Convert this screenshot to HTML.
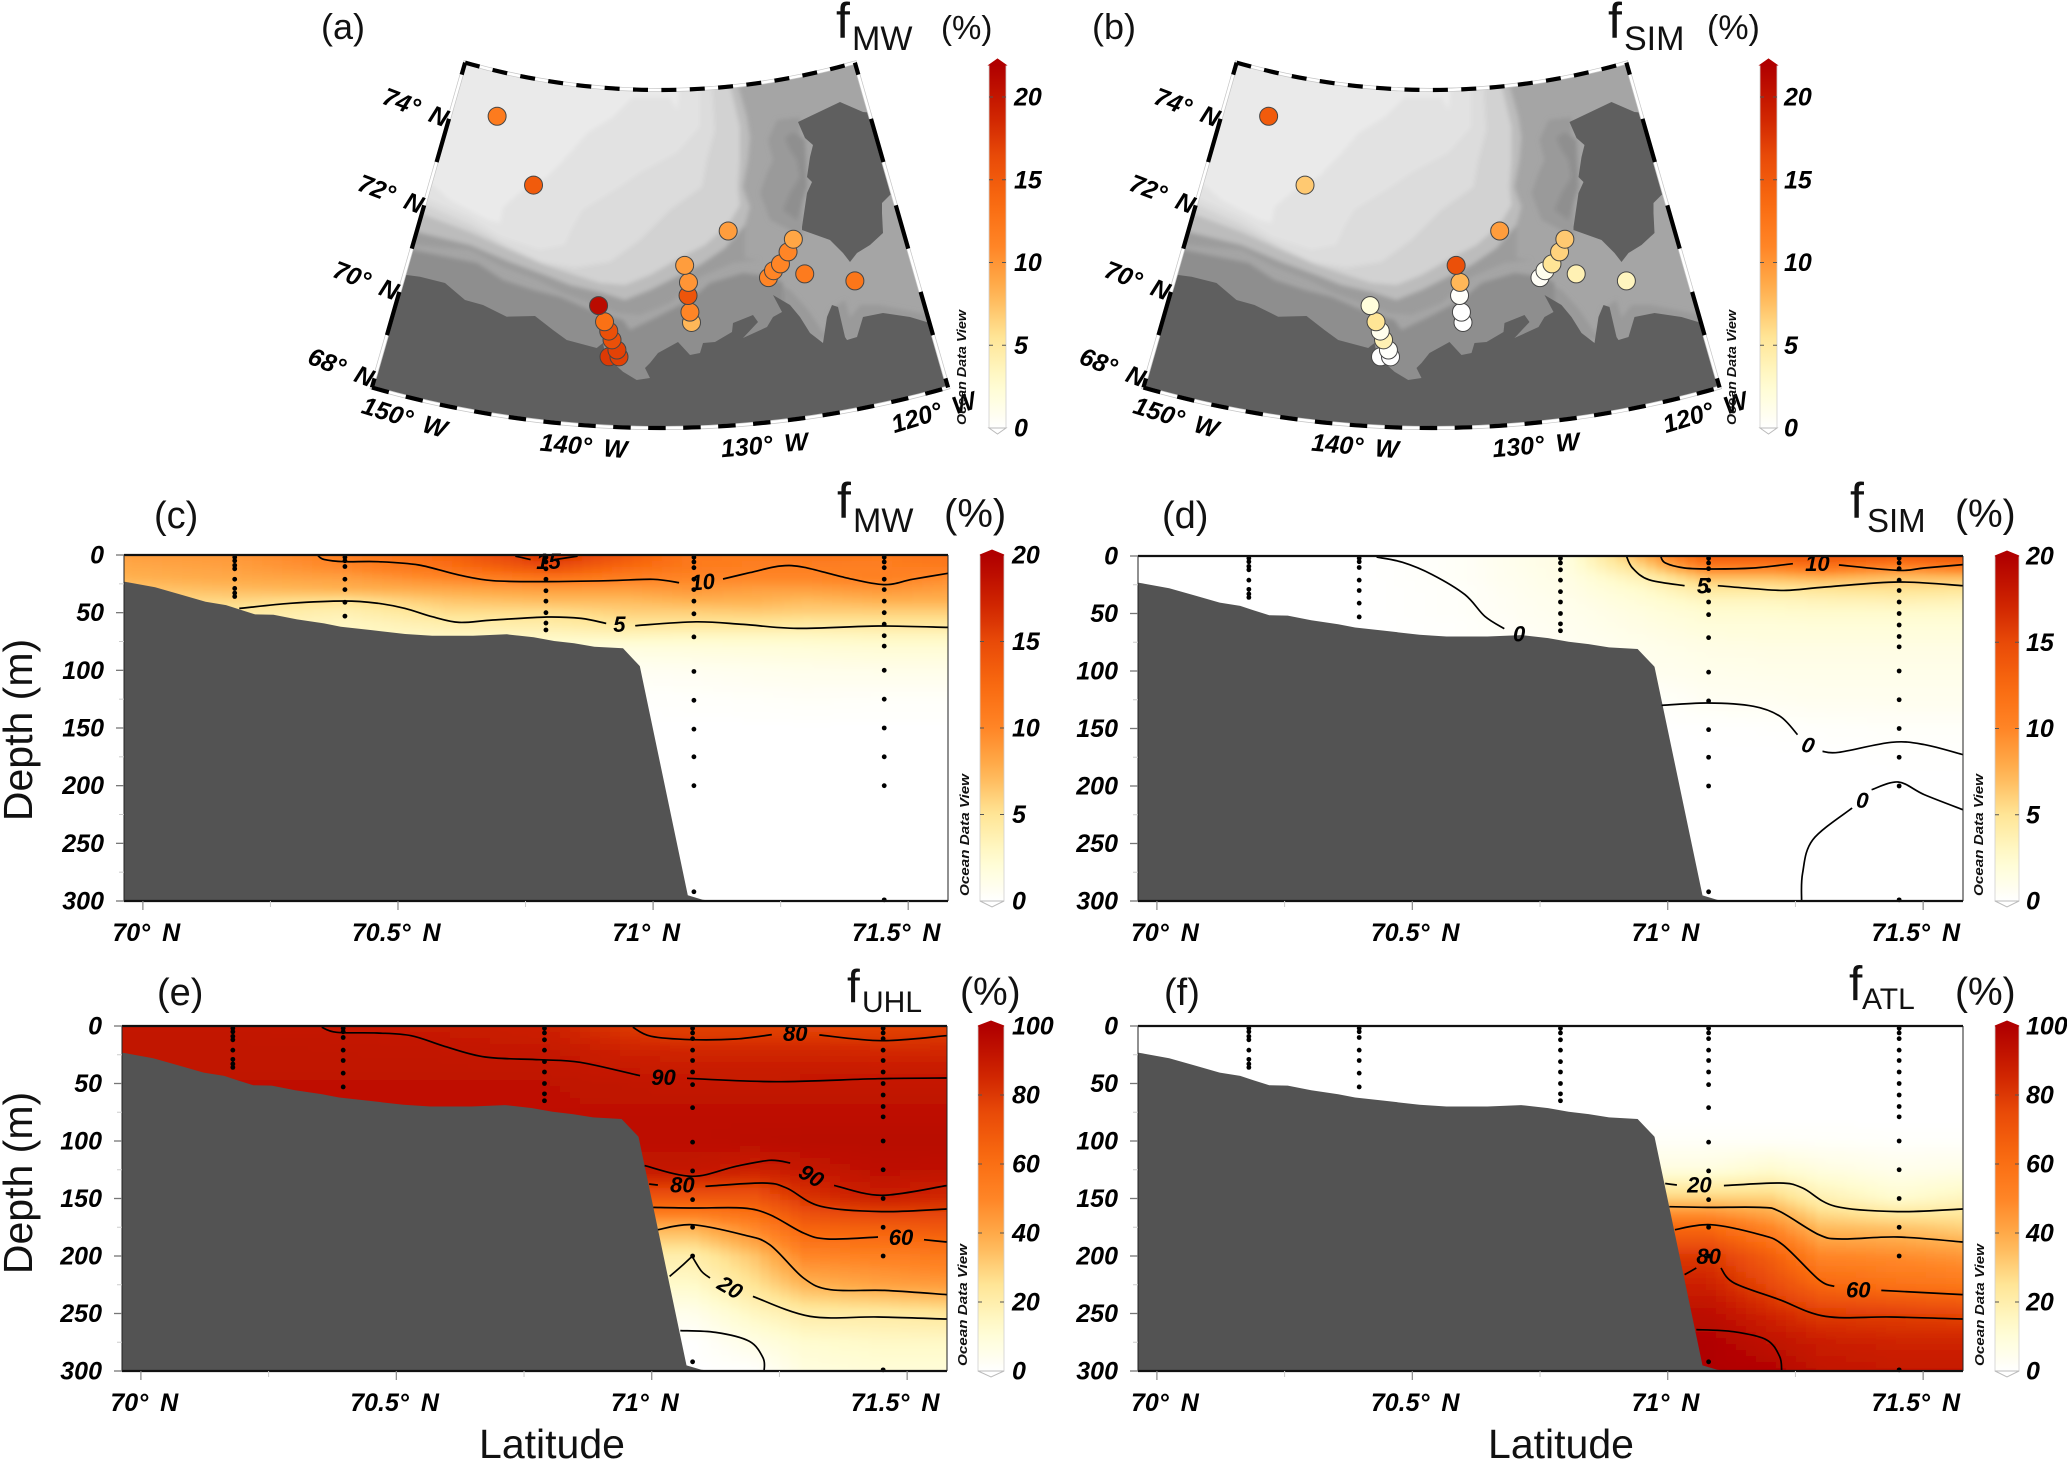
<!DOCTYPE html>
<html lang="en">
<head>
<meta charset="utf-8">
<title>Freshwater fractions map and sections</title>
<style>
html,body{margin:0;padding:0;background:#fff;}
svg{display:block;font-family:"Liberation Sans",sans-serif;}
.tick{font:italic bold 25px "Liberation Sans",sans-serif;fill:#000;word-spacing:5px;}
.title{font-family:"Liberation Sans",sans-serif;fill:#111;}
</style>
</head>
<body>
<svg id="figure" xmlns="http://www.w3.org/2000/svg" width="2067" height="1461" viewBox="0 0 2067 1461">
<defs>
  <filter id="soft" filterUnits="userSpaceOnUse" x="0" y="0" width="2067" height="1461"><feGaussianBlur stdDeviation="2.5"/></filter>
  <filter id="softMap" filterUnits="userSpaceOnUse" x="300" y="0" width="800" height="500"><feGaussianBlur stdDeviation="2.2"/></filter>
  <clipPath id="sectorClip"><path id="sectorClipPath" d=""/></clipPath>
  <g id="map-base">
    <g clip-path="url(#sectorClip)">
      <rect x="300" y="40" width="700" height="420" fill="#a5a5a5"/>
      <g filter="url(#softMap)">
        <polygon fill="#9a9a9a" points="768,140 777,120 800,117 803,237 770,220 760,193 767,173 773,160"/>
        <polygon fill="#8f8f8f" points="785,138 793,132 805,140 807,187 797,220 783,210 790,193 800,177 797,160 790,150"/>
        <polygon fill="#9a9a9a" points="775,283 790,290 808,310 825,335 830,310 845,300 850,318 860,305 880,305 930,315 930,340 775,340"/>
        <polygon fill="#8e8e8e" points="380,235 413,250 477,263 503,280 533,290 560,297 583,307 597,313 623,320 630,330 657,317 690,300 710,283 743,273 773,277 783,283 783,327 780,420 380,420"/>
        <polygon fill="#9c9c9c" points="385,232 417,245 470,250 503,267 537,280 563,293 590,303 617,313 640,315 670,303 700,277 733,263 760,260 745,258 745,225 700,225 500,225 385,225"/>
        <polygon fill="#bcbcbc" points="385,215 417,232 470,245 510,262 545,275 570,285 600,292 625,300 650,290 680,275 700,265 725,248 745,225 750,207 743,187 748,160 750,137 747,117 738,85 380,40"/>
        <polygon fill="#d2d2d2" points="395,205 425,215 470,232 510,250 545,265 575,275 600,283 625,285 650,275 680,258 705,245 728,225 740,205 738,187 740,160 740,127 730,85 380,40"/>
        <polygon fill="#dcdcdc" points="405,195 430,207 470,225 505,245 540,262 575,268 610,262 640,240 670,210 702,187 707,160 715,130 712,85 380,40"/>
        <polygon fill="#e2e2e2" points="410,190 430,200 470,218 500,237 540,250 565,245 573,227 583,210 620,187 640,173 677,153 700,127 700,85 380,40"/>
        <polygon fill="#eaeaea" points="405,180 433,185 450,200 488,220 500,223 503,207 523,190 547,177 570,153 587,133 613,117 633,97 670,97 677,110 680,80 380,40"/>
      </g>
      <polygon fill="#5f5f5f" points="380,275 406.7,275 420,276.7 433,280 445,283 465,300 483,305 506.7,316.7 535,316 553,330 566.7,340 596.7,348 603,343 605,353 610,360 623,371.7 636.7,380 650,378 645,368 650,363 658,353 678,342 690,355 700,353 703,343 715,342 732,332 733,323 753,315 758,322 743,338 767,327 773,317 782,312 773,295 790,305 800,317 810,333 823,343 827,317 832,305 838,307 845,337 847,340 857,337 863,317 883,313 910,317 930,323 980,335 980,460 340,460 340,275"/>
      <polygon fill="#5f5f5f" points="798,122 840,102 863,112 900,115 900,190 890,195 882,203 882,213 883,233 870,245 857,253 850,262 843,253 830,240 802,230 802,227 807,193 812,182 807,177 810,157 813,145 805,138"/>
    </g>
  </g>
</defs>
<rect x="0" y="0" width="2067" height="1461" fill="#fff"/>

<g>
  <text class="title" x="321" y="39" font-size="36">(a)</text>
  <text class="title" x="836" y="38" font-size="50">f</text>
  <text class="title" x="852" y="50" font-size="34">MW</text>
  <text class="title" x="941" y="39" font-size="33">(%)</text>
</g>
<g>
  <text class="title" x="1092" y="39" font-size="36">(b)</text>
  <text class="title" x="1608" y="38" font-size="50">f</text>
  <text class="title" x="1624" y="50" font-size="34">SIM</text>
  <text class="title" x="1707" y="39" font-size="34">(%)</text>
</g>
<g>
  <text class="title" x="154" y="528" font-size="38">(c)</text>
  <text class="title" x="837" y="518" font-size="50">f</text>
  <text class="title" x="853" y="532" font-size="34">MW</text>
  <text class="title" x="944" y="527" font-size="40">(%)</text>
</g>
<g>
  <text class="title" x="1162" y="528" font-size="38">(d)</text>
  <text class="title" x="1850" y="518" font-size="50">f</text>
  <text class="title" x="1867" y="532" font-size="33">SIM</text>
  <text class="title" x="1955" y="527" font-size="39">(%)</text>
</g>
<g>
  <text class="title" x="157" y="1005" font-size="38">(e)</text>
  <text class="title" x="847" y="1002" font-size="46">f</text>
  <text class="title" x="862" y="1012" font-size="30">UHL</text>
  <text class="title" x="960" y="1005" font-size="39">(%)</text>
</g>
<g>
  <text class="title" x="1164" y="1005" font-size="38">(f)</text>
  <text class="title" x="1849" y="1000" font-size="48">f</text>
  <text class="title" x="1862" y="1009" font-size="30">ATL</text>
  <text class="title" x="1955" y="1005" font-size="39">(%)</text>
</g>
<text class="title" transform="translate(32,730) rotate(-90)" text-anchor="middle" font-size="41">Depth (m)</text>
<text class="title" transform="translate(32,1183) rotate(-90)" text-anchor="middle" font-size="41">Depth (m)</text>
<text class="title" x="552" y="1458" text-anchor="middle" font-size="41">Latitude</text>
<text class="title" x="1561" y="1458" text-anchor="middle" font-size="41">Latitude</text>
</svg>

<script>
// ---------- data: map stations (drawn bottom to top) ----------
const stationLon=[-137.81,-137.26,-137.39,-137.69,-137.9,-138.17,-138.57,-133.2,-133.27,-133.35,-133.3,-133.5,-123.52,-126.35,-128.52,-128.17,-127.7,-127.14,-126.7,-130.69,-143.4,-146.74];
const stationLat=[69.15,69.16,69.31,69.53,69.72,69.92,70.27,69.93,70.16,70.53,70.82,71.2,70.4,70.76,70.79,70.93,71.06,71.3,71.56,71.91,72.77,74.12];
const stationMW=[17.5,17,17,16,16,13,21,8,11,15.5,10,9.5,12.5,12,11,11,11,11,9,9.5,15,12];
const stationSIM=[0,0,0.3,4,1,5.5,2,0,0,0.3,8,16,3.5,4,0.5,1,5.5,6.5,7,9.5,7,15];
const mapLatTicks=[74,72,70,68];
const mapLonTicks=[150,140,130,120];
const mapBarTicks=[0,5,10,15,20];

// ---------- data: section axes ----------
const latTicks=[70,70.5,71,71.5];
const latMinorTicks=[70.25,70.75,71.25];
const depthTicks=[0,50,100,150,200,250,300];
const depthMinorTicks=[25,75,125,175,225,275];
const percentTicks20=[0,5,10,15,20];
const percentTicks100=[0,20,40,60,80,100];

// ---------- data: bottom profile ----------
const bottomLat=[69.963,70.024,70.077,70.123,70.163,70.189,70.22,70.256,70.302,70.355,70.388,70.448,70.514,70.567,70.647,70.713,70.766,70.806,70.845,70.885,70.941,70.974,71.068,71.097,71.12];
const bottomDepth=[23.1,28,34.7,40.5,43.4,47.2,51.5,51.8,55.8,59.3,62.2,65.1,68.5,70,70,68.8,71.4,74.6,76.6,79.5,80.9,96.3,295.1,299,300];

// ---------- data: sample casts ----------
const castLat=[70.18,70.396,70.79,71.08,71.453];
const castDepth1=[2,5,9,12,21,29,33,36];
const castDepth2=[2,5,10,21,30,41,53];
const castDepth3=[2,6,12,21,31,40,50,59,65];
const castDepth4=[2,6,11,21,30,40,51,71,101,126,151,175,200,292];
const castDepth5=[2,6,11,21,30,40,50,60,70,79,100,125,150,175,200,299];

// ---------- data: field grids ----------
const gridLat=[69.96,70.18,70.4,70.6,70.8,70.95,71.08,71.2,71.3,71.45,71.58];
const gridDepth=[0,10,20,30,40,50,60,70,80,100,125,150,175,200,225,250,275,300];
const fieldMW=[
[8.5,9,10.5,13,17,14,11,11,11.5,11,11.5],
[8,8.5,10,12,15,12.5,11,10.5,10.5,10.5,11],
[7.5,8,8.5,10,11.5,10.5,10,10,10,10.5,9.5],
[6.5,7,7.5,8,8.5,8.5,9,8.5,8.5,9,8.5],
[5.5,5.7,5,6.5,7,7,7.5,7.5,7,7.5,7.5],
[4,4.5,3.7,5.3,5.3,6,6,6.2,6,6,6],
[3,3.5,3,4,4.2,4.8,4.8,4.8,4.5,4.7,4.7],
[2.5,3,2.8,3,3,3.2,3,3,3,3.2,3.2],
[2,2,2,2,2,1.7,1.8,1.9,2,2.2,2.2],
[1,1,1,1,1,0.6,0.7,0.9,1,1.1,1.1],
[0.1,0.1,0.1,0.1,0.1,0.1,0.2,0.3,0.4,0.3,0.3],
[0,0,0,0,0,0,0,0,0,0,0],
[0,0,0,0,0,0,0,0,0,0,0],
[0,0,0,0,0,0,0,0,0,0,0],
[0,0,0,0,0,0,0,0,0,0,0],
[0,0,0,0,0,0,0,0,0,0,0],
[0,0,0,0,0,0,0,0,0,0,0],
[0,0,0,0,0,0,0,0,0,0,0]];
const fieldSIM=[
[0,0,0,0.4,1.5,7.5,14,14,14.5,14,14.5],
[0,0,0,0.4,1.5,5.5,10.5,10.5,11.5,10,11],
[0,0,0,0.4,1.3,3.5,6.5,6.5,7,6.5,6.5],
[0,0,0,0.3,1.2,2.5,4.5,4.5,4.8,5,4.8],
[0,0,0,0.3,1,2,3,3,3.3,3.5,3.3],
[0,0,0,0.3,0.9,1.6,2.3,2.4,2.5,2.5,2.5],
[0,0,0,0.2,0.8,1.4,1.9,1.9,2,2,2],
[0,0,0,0.2,0.7,1.2,1.6,1.7,1.7,1.7,1.7],
[0,0,0,0.1,0.6,1,1.3,1.4,1.4,1.4,1.4],
[0,0,0,0.1,0.4,0.8,1,1.1,1.1,1.1,1.1],
[0,0,0,0,0.1,0.15,0.6,0.7,0.8,0.8,0.8],
[0,0,0,0,0,0,0.05,0.1,0.2,0.3,0.3],
[0,0,0,0,0,0,0,0,0,0.05,0.05],
[0,0,0,0,0,0,0,0,0,0,0],
[0,0,0,0,0,0,0,0,0,0,0],
[0,0,0,0,0,0,0,0,0,0,0],
[0,0,0,0,0,0,0,0,0,0,0],
[0,0,0,0,0,0,0,0,0,0,0]];
const fieldUHL=[
[91,91,90,89,87,80,78,78,76,77,78],
[92,92,91,90,88,83,80,80,80,80,81],
[92,92,92,91,90,86,85,85,85,84,84],
[92,92,92,92,91,88,87,87,87,86,87],
[92,92,92,92,92,90,89,89,89,89,89],
[93,93,93,93,93,92,90.5,90,90.5,90.5,90.5],
[93,93,93,93,93,92.5,92,92,92,92,92],
[93,93,93,93,93,93,93,93,93,93,93],
[94,94,94,94,94,94,94,94,94,94,94],
[94,94,94,94,94,94,94,95,96,96,96],
[91,91,91,91,91,91,91,87,90,94,93],
[70,70,70,70,70,70,70,70,81,88,84],
[38,38,38,38,38,38,38,50,65,67,70],
[20,20,20,20,20,20,20,33,50,52,55],
[13,13,13,13,13,13,13,25,37,42,44],
[5,5,5,5,5,5,5,15,21,22,24],
[0,0,0,0,0,0,0,7,12,14,14],
[0,0,0,0,0,0,0,0.5,8,10,10]];
const fieldATL=[
[0,0,0,0,0,0,0,0,0,0,0],
[0,0,0,0,0,0,0,0,0,0,0],
[0,0,0,0,0,0,0,0,0,0,0],
[0,0,0,0,0,0,0,0,0,0,0],
[0,0,0,0,0,0,0,0,0,0,0],
[0,0,0,0,0,0,0,0,0,0,0],
[0,0,0,0,0,0,0,0,0,0,0],
[0,0,0,0,0,0,0,0,0,0,0],
[0,0,0,0,0,0,0,0,0,0,0],
[2,2,2,2,2,2,2,2,1.5,1,1],
[8,8,8,8,8,8,8,12,8,5,6],
[30,30,30,30,30,30,30,30,19,12,16],
[62,62,62,62,62,62,62,50,35,33,30],
[80,80,80,80,80,80,80,67,50,48,45],
[87,87,87,87,87,87,87,75,63,58,56],
[94,94,94,94,94,94,94,85,79,78,76],
[100,100,100,100,100,100,100,93,88,86,86],
[100,100,100,100,100,100,100,99,92,90,90]];

// ---------- data: contours, [latitude, depth] ----------
const mw10a=[[70.342,0],[70.355,3.8],[70.395,5.8],[70.461,5.8],[70.541,8.7],[70.62,17.4],[70.686,22.3],[70.792,23.1],[70.912,22.3],[71.0,21.1],[71.051,24]];
const mw10b=[[71.137,20.8],[71.19,15.3],[71.25,9.5],[71.296,10.7],[71.375,19.4],[71.452,25.7],[71.508,21.1],[71.578,15.9]];
const mw5a=[[70.189,46.3],[70.289,41.9],[70.395,39.9],[70.461,41.9],[70.514,46.3],[70.567,53.5],[70.62,58.4],[70.686,56.4],[70.792,53.8],[70.859,55],[70.908,59.3]];
const mw5b=[[70.965,61.3],[71.084,57.9],[71.177,60.2],[71.283,63.6],[71.442,61.6],[71.578,62.8]];
const mw15a=[[70.73,1],[70.76,4]];
const mw15b=[[70.807,4],[70.852,1]];
const sim10a=[[70.986,0],[70.995,6],[71.033,10.4],[71.091,11.3],[71.168,10.4],[71.245,6.7]];
const sim10b=[[71.335,7.8],[71.451,12.5],[71.502,10.4],[71.578,7.5]];
const sim5a=[[70.919,0],[70.931,10.4],[70.963,20.6],[71.033,25.8]];
const sim5b=[[71.098,25.8],[71.168,28.4],[71.232,29.9],[71.309,27],[71.451,22.6],[71.578,25.8]];
const sim0a=[[70.43,1],[70.481,5.5],[70.539,16.2],[70.603,33.6],[70.642,52.5],[70.68,63.2]];
const sim0b=[[70.988,129.9],[71.078,127.8],[71.168,130.7],[71.22,139.4],[71.254,155.4]];
const sim0c=[[71.303,169.9],[71.335,170.7],[71.438,162],[71.502,164],[71.578,172.8]];
const sim0d=[[71.262,300],[71.264,275.7],[71.284,246.7],[71.361,219.1]];
const sim0e=[[71.399,203.2],[71.451,196.5],[71.502,207.5],[71.578,220.6]];
const uhl90a=[[70.354,1],[70.383,5.5],[70.462,6.1],[70.529,8.4],[70.595,17.7],[70.674,27],[70.78,29.3],[70.86,31.6],[70.977,43.2]];
const uhl90b=[[71.069,45.5],[71.244,48.4],[71.443,45.8],[71.577,45.2]];
const uhl80a=[[70.963,1],[70.999,9],[71.079,11.9],[71.165,11.3],[71.235,7.5]];
const uhl80b=[[71.328,7.8],[71.45,12.8],[71.577,8.4]];
const uhl90c=[[70.986,121.4],[71.079,130.7],[71.165,122],[71.231,116.8],[71.271,119.1]];
const uhl90d=[[71.357,138.6],[71.45,147.2],[71.577,138.8]];
const uhl80c=[[70.995,137.4],[71.012,138.3]];
const uhl80d=[[71.105,139.4],[71.218,136.5],[71.264,140.9],[71.331,156.8],[71.45,161.4],[71.577,159.1]];
const uhl60a=[[71.003,157.7],[71.079,158.3],[71.178,158.3],[71.231,164],[71.297,180],[71.344,185.2],[71.443,183.5]];
const uhl60b=[[71.533,185.8],[71.577,187.8]];
const uhl40=[[71.012,177.1],[71.079,172.8],[71.178,181.5],[71.231,190.2],[71.297,219.1],[71.35,229.3],[71.456,229.9],[71.577,233.6]];
const uhl20a=[[71.035,217.7],[71.058,209],[71.079,200.3],[71.079,200.3],[71.097,213],[71.114,219.1]];
const uhl20b=[[71.198,235.1],[71.31,252.5],[71.443,253],[71.577,254.8]];
const uhl0=[[71.056,264.9],[71.125,266.4],[71.191,274.2],[71.218,288.7],[71.22,300]];
const atl20a=[[70.995,137],[71.018,138.3]];
const atl20b=[[71.11,138.8],[71.219,136.5],[71.264,140.9],[71.328,156.8],[71.45,161.4],[71.577,159.1]];
const atl40=[[71.003,157.1],[71.078,157.7],[71.181,157.7],[71.219,161.2],[71.296,181.5],[71.341,185.2],[71.45,183.5],[71.577,187.8]];
const atl60a=[[71.014,177.1],[71.084,172.8],[71.181,181.5],[71.225,190.2],[71.296,220.6],[71.326,226.4]];
const atl60b=[[71.418,229.9],[71.577,233.6]];
const atl80a=[[71.033,216.2],[71.056,210.4]];
const atl80b=[[71.104,210.4],[71.13,223.5],[71.219,238],[71.309,252.5],[71.437,253],[71.577,254.8]];
const atl100=[[71.056,264],[71.129,265.8],[71.193,272.8],[71.219,287.3],[71.223,300]];

// ---------- data: contour labels, [text, latitude, depth, rotation] ----------
const labelsMW=[['10',71.097,23,-5],['5',70.934,60,0],['15',70.795,5,0]];
const labelsSIM=[['10',71.293,6,0],['5',71.069,25.8,0],['0',70.709,67.5,0],['0',71.275,164,15],['0',71.381,212,5]];
const labelsUHL=[['80',71.281,6,0],['90',71.023,44.4,0],['90',71.313,130,30],['80',71.06,138,0],['60',71.488,183.5,0],['20',71.154,227,30]];
const labelsATL=[['20',71.062,138,0],['80',71.08,200,0],['60',71.373,229,0]];

// ---------- helpers ----------
const svg=document.getElementById('figure');
const NS='http://www.w3.org/2000/svg';
function make(tag,attrs,parent){
  const e=document.createElementNS(NS,tag);
  for(const k in attrs){e.setAttribute(k,attrs[k]);}
  (parent||svg).appendChild(e);
  return e;
}
const ramp=[[0,255,255,255],[0.12,255,252,208],[0.25,255,229,150],[0.38,255,176,79],[0.5,255,133,38],[0.62,249,106,16],[0.75,232,74,8],[0.87,204,32,0],[1,176,0,0]];
function colorAt(t){
  t=Math.max(0,Math.min(1,t));
  for(let i=1;i<ramp.length;i++){
    if(t<=ramp[i][0]){
      const a=ramp[i-1],b=ramp[i],f=(t-a[0])/(b[0]-a[0]);
      return 'rgb('+Math.round(a[1]+(b[1]-a[1])*f)+','+Math.round(a[2]+(b[2]-a[2])*f)+','+Math.round(a[3]+(b[3]-a[3])*f)+')';
    }
  }
  return 'rgb(176,0,0)';
}
function smoothPath(pts){
  let d='M'+pts[0][0].toFixed(1)+' '+pts[0][1].toFixed(1);
  for(let i=0;i<pts.length-1;i++){
    const p0=pts[Math.max(i-1,0)],p1=pts[i],p2=pts[i+1],p3=pts[Math.min(i+2,pts.length-1)];
    const c1x=p1[0]+(p2[0]-p0[0])/6,c1y=p1[1]+(p2[1]-p0[1])/6;
    const c2x=p2[0]-(p3[0]-p1[0])/6,c2y=p2[1]-(p3[1]-p1[1])/6;
    d+='C'+c1x.toFixed(1)+' '+c1y.toFixed(1)+' '+c2x.toFixed(1)+' '+c2y.toFixed(1)+' '+p2[0].toFixed(1)+' '+p2[1].toFixed(1);
  }
  return d;
}
let gradientCount=0;
function drawBar(x0,x1,yTop,yBottom,tipTop,tipBottom,labelX,ticks,maxV,yOf){
  const id='barGrad'+(gradientCount++);
  const defs=svg.querySelector('defs');
  const grad=make('linearGradient',{id:id,x1:0,y1:1,x2:0,y2:0},defs);
  for(let i=0;i<=20;i++){
    make('stop',{offset:(i/20),'stop-color':colorAt(i/20)},grad);
  }
  const g=make('g',{});
  
  
  const body=make('rect',{x:x0,y:yTop,width:x1-x0,height:yBottom-yTop,fill:'url(#'+id+')',stroke:'#cfcfcf','stroke-width':0.8},g);
  
  
  const mid=(x0+x1)/2;
  const top=make('polygon',{points:x0+','+yTop+' '+mid+','+tipTop+' '+x1+','+yTop,fill:'#b00000',stroke:'#b00000','stroke-width':1},g);
  
  
  const bot=make('polygon',{points:x0+','+yBottom+' '+mid+','+tipBottom+' '+x1+','+yBottom,fill:'#fff',stroke:'#bbb','stroke-width':1},g);
  
  
  ticks.forEach(function(v){
    const y=yOf(v);
    if(v>0&&v<maxV){
      const a=make('line',{x1:x0,x2:x0+4,y1:y,y2:y,stroke:'#555','stroke-width':1},g);
      
      
      const b=make('line',{x1:x1-4,x2:x1,y1:y,y2:y,stroke:'#555','stroke-width':1},g);
      
      
    }
    const t=make('text',{x:labelX,y:y+8.5,class:'tick'},g);
    t.textContent=String(v);
    
    
  });
}
function odvText(x,yBottom,len){
  const t=make('text',{transform:'translate('+x+','+yBottom+') rotate(-90)','font-size':12.5,'font-weight':'bold','font-style':'italic',fill:'#111',textLength:len,lengthAdjust:'spacingAndGlyphs'});
  t.textContent='Ocean Data View';
  
  
}

// ---------- map panels ----------
const APEX_X=660,APEX_Y=-617,R_SOUTH=1045,R_PER_DEG=45.07,LAT_SOUTH=67.6,LON_MID=-135,THETA_PER_LON=1.0667;
function mapXY(lon,lat,dx){
  const theta=(lon-LON_MID)*THETA_PER_LON*Math.PI/180;
  const r=R_SOUTH-(lat-LAT_SOUTH)*R_PER_DEG;
  return [APEX_X+dx+r*Math.sin(theta),APEX_Y+r*Math.cos(theta)];
}
const LAT_NORTH=LAT_SOUTH+338/R_PER_DEG;
const RTOP=707,RBOT=1045;
function sectorD(dx){
  const tl=mapXY(-150,LAT_NORTH,dx),tr=mapXY(-120,LAT_NORTH,dx),br=mapXY(-120,LAT_SOUTH,dx),bl=mapXY(-150,LAT_SOUTH,dx);
  return 'M'+tl[0]+' '+tl[1]+'A'+RTOP+' '+RTOP+' 0 0 0 '+tr[0]+' '+tr[1]+'L'+br[0]+' '+br[1]+'A'+RBOT+' '+RBOT+' 0 0 1 '+bl[0]+' '+bl[1]+'Z';
}
document.getElementById('sectorClipPath').setAttribute('d',sectorD(0));
function drawMap(key,dx,values,barX0,barX1,labelX,odvX){
  const g=make('g',{});
  
  
  const base=make('use',{href:'#map-base',transform:'translate('+dx+',0)'},g);
  
  
  const d=sectorD(dx);
  const outline=make('path',{d:d,fill:'none',stroke:'#c4c4c4','stroke-width':4},g);
  
  
  const inner=make('path',{d:d,fill:'none',stroke:'#fff','stroke-width':2.6},g);
  
  
  const tl=mapXY(-150,LAT_NORTH,dx),tr=mapXY(-120,LAT_NORTH,dx),br=mapXY(-120,LAT_SOUTH,dx),bl=mapXY(-150,LAT_SOUTH,dx);
  const arcs=[
    ['M'+tl[0]+' '+tl[1]+'A'+RTOP+' '+RTOP+' 0 0 0 '+tr[0]+' '+tr[1],'15 13.4'],
    ['M'+bl[0]+' '+bl[1]+'A'+RBOT+' '+RBOT+' 0 0 0 '+br[0]+' '+br[1],'17.5 17.5'],
    ['M'+tl[0]+' '+tl[1]+'L'+bl[0]+' '+bl[1],'12.5 46 45 45 45 45 45 45 45 45'],
    ['M'+tr[0]+' '+tr[1]+'L'+br[0]+' '+br[1],'12.5 46 45 45 45 45 45 45 45 45']
  ];
  arcs.forEach(function(a){
    const p=make('path',{d:a[0],fill:'none',stroke:'#000','stroke-width':4.2,'stroke-dasharray':a[1]},g);
    
    
  });
  mapLatTicks.forEach(function(lat){
    const p=mapXY(-150,lat,dx);
    const t=make('text',{class:'tick','text-anchor':'middle',transform:'translate('+(p[0]-39)+','+(p[1]-3+8)+') rotate(21)'},g);
    t.textContent=lat+'° N';
    
    
  });
  const lonNudgeX=[30,20,8,-12],lonNudgeY=[30,23,22,25],lonRot=[17,5,-5,-17];
  mapLonTicks.forEach(function(lon,i){
    const p=mapXY(-lon,LAT_SOUTH,dx);
    const t=make('text',{class:'tick','text-anchor':'middle',transform:'translate('+(p[0]+lonNudgeX[i])+','+(p[1]+lonNudgeY[i]+8)+') rotate('+lonRot[i]+')'},g);
    t.textContent=lon+'° W';
    
    
  });
  stationLon.forEach(function(lon,i){
    const p=mapXY(lon,stationLat[i],dx);
    const c=make('circle',{cx:p[0],cy:p[1],r:9,fill:colorAt(values[i]/22),stroke:'#454545','stroke-width':1},g);
    
    
  });
  drawBar(barX0,barX1,65,428,59,434,labelX,mapBarTicks,22,function(v){return 428-16.55*v;});
  odvText(odvX,425,115);
}
drawMap('a',0,stationMW,989,1006,1014,966);
drawMap('b',771.5,stationSIM,1760,1777,1784,1736);

// ---------- section panels ----------
const LAT_LEFT=69.963,LAT_RIGHT=71.578;
function drawSection(cfg){
  const xOf=function(lat){return cfg.left+(lat-LAT_LEFT)/(LAT_RIGHT-LAT_LEFT)*(cfg.right-cfg.left);};
  const yOf=function(dep){return cfg.top+dep/300*(cfg.bottom-cfg.top);};
  const latOfX=function(x){return LAT_LEFT+(x-cfg.left)/(cfg.right-cfg.left)*(LAT_RIGHT-LAT_LEFT);};
  const depOfY=function(y){return (y-cfg.top)/(cfg.bottom-cfg.top)*300;};
  const sample=function(lat,dep){
    lat=Math.max(gridLat[0],Math.min(gridLat[gridLat.length-1],lat));
    dep=Math.max(0,Math.min(300,dep));
    let i=0;while(i<gridLat.length-2&&lat>gridLat[i+1]){i++;}
    let j=0;while(j<gridDepth.length-2&&dep>gridDepth[j+1]){j++;}
    const fx=(lat-gridLat[i])/(gridLat[i+1]-gridLat[i]);
    const fy=(dep-gridDepth[j])/(gridDepth[j+1]-gridDepth[j]);
    const top=cfg.field[j][i]*(1-fx)+cfg.field[j][i+1]*fx;
    const bot=cfg.field[j+1][i]*(1-fx)+cfg.field[j+1][i+1]*fx;
    return top*(1-fy)+bot*fy;
  };
  const panel=make('g',{});
  
  
  const clipId='clip'+cfg.key;
  const clip=make('clipPath',{id:clipId},svg.querySelector('defs'));
  make('rect',{x:cfg.left,y:cfg.top,width:cfg.right-cfg.left,height:cfg.bottom-cfg.top},clip);
  const clipped=make('g',{'clip-path':'url(#'+clipId+')'},panel);
  const heat=make('g',{filter:'url(#soft)','shape-rendering':'crispEdges'},clipped);
  
  
  const cw=10,ch=6;
  for(let y=cfg.top-12;y<cfg.bottom+12;y+=ch){
    for(let x=cfg.left-12;x<cfg.right+12;x+=cw){
      const v=sample(latOfX(x+cw/2),depOfY(y+ch/2));
      if(v<=0.001){continue;}
      const r=make('rect',{x:x,y:y,width:cw+0.5,height:ch+0.5,fill:colorAt(v/cfg.maxV)},heat);
      
      
    }
  }
  const pts=bottomLat.map(function(l,i){return xOf(l).toFixed(1)+','+yOf(bottomDepth[i]).toFixed(1);});
  pts.push(xOf(LAT_LEFT)+','+yOf(300));
  const land=make('polygon',{points:pts.join(' '),fill:'#535353'},clipped);
  
  
  cfg.contours.forEach(function(seg){
    const p=make('path',{d:smoothPath(seg.map(function(q){return [xOf(q[0]),yOf(q[1])];})),fill:'none',stroke:'#000','stroke-width':1.7},clipped);
    
    
  });
  const casts=[castDepth1,castDepth2,castDepth3,castDepth4,castDepth5];
  casts.forEach(function(depths,i){
    depths.forEach(function(dep){
      const c=make('circle',{cx:xOf(castLat[i]),cy:yOf(dep),r:2.4,fill:'#000'},panel);
      
      
    });
  });
  cfg.labels.forEach(function(l){
    const t=make('text',{class:'tick',style:'font-size:22px','text-anchor':'middle',transform:'translate('+xOf(l[1])+','+(yOf(l[2]))+') rotate('+l[3]+') translate(0,8)'},panel);
    t.textContent=l[0];
    
    
  });
  const frameTop=make('line',{x1:cfg.left,x2:cfg.right,y1:cfg.top,y2:cfg.top,stroke:'#111','stroke-width':2.2},panel);
  
  
  const frameBottom=make('line',{x1:cfg.left,x2:cfg.right,y1:cfg.bottom,y2:cfg.bottom,stroke:'#111','stroke-width':2.2},panel);
  
  
  const frameRight=make('line',{x1:cfg.right,x2:cfg.right,y1:cfg.top,y2:cfg.bottom,stroke:'#222','stroke-width':1},panel);
  
  
  const frameLeft=make('line',{x1:cfg.left,x2:cfg.left,y1:cfg.top,y2:cfg.bottom,stroke:'#222','stroke-width':1},panel);
  
  
  depthTicks.forEach(function(dep){
    const y=yOf(dep);
    const l=make('line',{x1:cfg.left-8,x2:cfg.left,y1:y,y2:y,stroke:'#777','stroke-width':1.3},panel);
    
    
    const t=make('text',{class:'tick',x:cfg.left-20,y:y+8.5,'text-anchor':'end'},panel);
    t.textContent=String(dep);
    
    
  });
  depthMinorTicks.forEach(function(dep){
    const y=yOf(dep);
    const l=make('line',{x1:cfg.left-5,x2:cfg.left,y1:y,y2:y,stroke:'#ccc','stroke-width':1},panel);
    
    
  });
  latTicks.forEach(function(lat){
    const x=xOf(lat);
    const l=make('line',{x1:x,x2:x,y1:cfg.bottom,y2:cfg.bottom+9,stroke:'#888','stroke-width':1.2},panel);
    
    
    const t=make('text',{class:'tick',x:x+cfg.labelShift-(lat-70)*10.3,y:cfg.bottom+40,'text-anchor':'middle'},panel);
    t.textContent=lat+'° N';
    
    
  });
  latMinorTicks.forEach(function(lat){
    const x=xOf(lat);
    const l=make('line',{x1:x,x2:x,y1:cfg.bottom,y2:cfg.bottom+6,stroke:'#ccc','stroke-width':1},panel);
    
    
  });
  drawBar(cfg.barX0,cfg.barX1,cfg.top,cfg.bottom,cfg.top-5,cfg.bottom+6,cfg.barLabelX,cfg.barTicks,cfg.maxV,function(v){return cfg.bottom-v/cfg.maxV*(cfg.bottom-cfg.top);});
  odvText(cfg.odvX,cfg.bottom-5,122);
}
drawSection({key:'c',left:124,right:948,top:555,bottom:901,field:fieldMW,maxV:20,contours:[mw10a,mw10b,mw5a,mw5b,mw15a,mw15b],labels:labelsMW,labelShift:3.4,barX0:980,barX1:1004,barLabelX:1012,barTicks:percentTicks20,odvX:969});
drawSection({key:'d',left:1138,right:1963,top:556,bottom:901,field:fieldSIM,maxV:20,contours:[sim10a,sim10b,sim5a,sim5b,sim0a,sim0b,sim0c,sim0d,sim0e],labels:labelsSIM,labelShift:8,barX0:1995,barX1:2019,barLabelX:2026,barTicks:percentTicks20,odvX:1983});
drawSection({key:'e',left:122,right:947,top:1026,bottom:1371,field:fieldUHL,maxV:100,contours:[uhl90a,uhl90b,uhl80a,uhl80b,uhl90c,uhl90d,uhl80c,uhl80d,uhl60a,uhl60b,uhl40,uhl20a,uhl20b,uhl0],labels:labelsUHL,labelShift:3.4,barX0:978,barX1:1004,barLabelX:1012,barTicks:percentTicks100,odvX:967});
drawSection({key:'f',left:1138,right:1963,top:1026,bottom:1371,field:fieldATL,maxV:100,contours:[atl20a,atl20b,atl40,atl60a,atl60b,atl80a,atl80b,atl100],labels:labelsATL,labelShift:8,barX0:1995,barX1:2019,barLabelX:2026,barTicks:percentTicks100,odvX:1984});
</script>
</body>
</html>
